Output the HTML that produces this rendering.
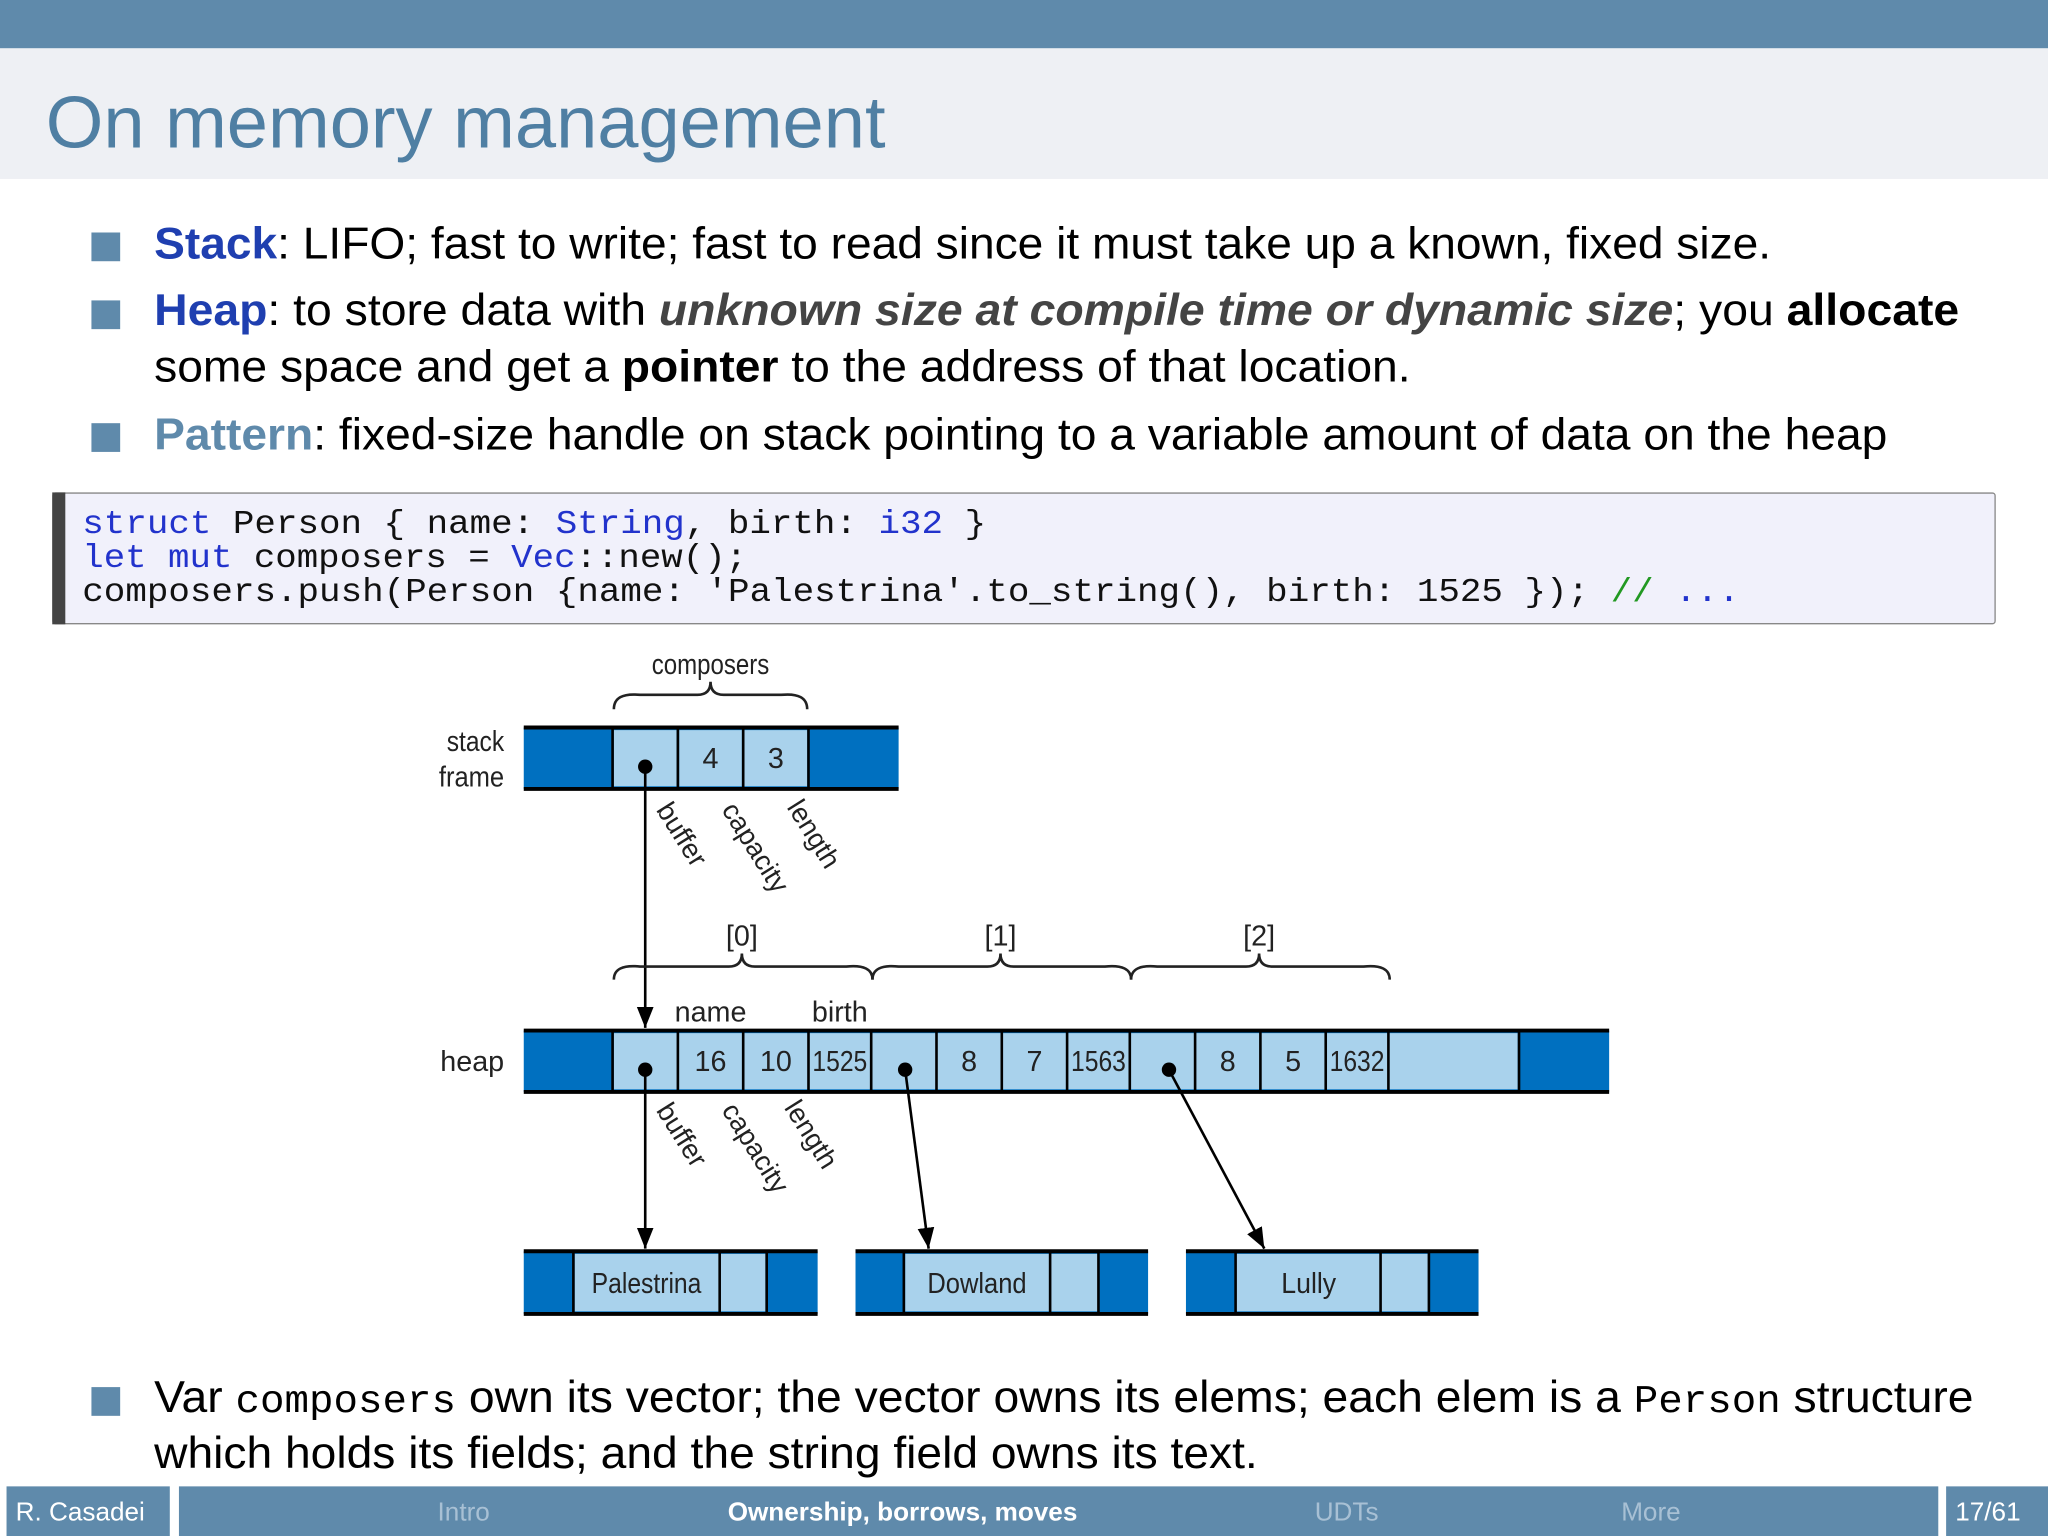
<!DOCTYPE html>
<html><head><meta charset="utf-8"><style>
html,body{margin:0;padding:0;background:#fff;}
svg{display:block;}
.cd{font-family:"Liberation Sans",sans-serif;}
</style></head><body>
<svg width="2048" height="1536" viewBox="0 0 1568 1176" xmlns="http://www.w3.org/2000/svg" font-family="Liberation Sans, sans-serif">
<defs>
<marker id="ah" viewBox="0 0 10 10" refX="10" refY="5" markerWidth="16" markerHeight="16" orient="auto" markerUnits="userSpaceOnUse"><path d="M0,1 L10,5 L0,9 z" fill="#000"/></marker>
</defs>
<rect x="0" y="0" width="1568" height="37" fill="#5f8aab"/>
<rect x="0" y="37" width="1568" height="100" fill="#eef0f4"/>
<text x="35" y="113" font-size="56" fill="#4f7fa3" textLength="643" lengthAdjust="spacingAndGlyphs">On memory management</text>

<g font-size="34" fill="#000">
<rect x="70" y="178" width="22" height="22" fill="#5f8aab"/>
<text x="118" y="198" textLength="1238" lengthAdjust="spacingAndGlyphs"><tspan font-weight="bold" fill="#1f3fb0">Stack</tspan>: LIFO; fast to write; fast to read since it must take up a known, fixed size.</text>
<rect x="70" y="230" width="22" height="22" fill="#5f8aab"/>
<text x="118" y="249" textLength="1382" lengthAdjust="spacingAndGlyphs"><tspan font-weight="bold" fill="#1f3fb0">Heap</tspan>: to store data with <tspan font-weight="bold" font-style="italic" fill="#444">unknown size at compile time or dynamic size</tspan>; you <tspan font-weight="bold">allocate</tspan></text>
<text x="118" y="292" textLength="962" lengthAdjust="spacingAndGlyphs">some space and get a <tspan font-weight="bold">pointer</tspan> to the address of that location.</text>
<rect x="70" y="324" width="22" height="22" fill="#5f8aab"/>
<text x="118" y="344" textLength="1327" lengthAdjust="spacingAndGlyphs"><tspan font-weight="bold" fill="#5f8aab">Pattern</tspan>: fixed-size handle on stack pointing to a variable amount of data on the heap</text>
</g>

<rect x="40.5" y="377.5" width="1487" height="100" fill="#f1f1fb" stroke="#888" stroke-width="1" rx="2"/>
<rect x="40" y="377" width="10" height="101" fill="#444"/>
<g font-family="Liberation Mono, monospace" font-size="25.8" fill="#111">
<text x="63" y="408" textLength="692" lengthAdjust="spacingAndGlyphs"><tspan fill="#2233cc">struct</tspan> Person { name: <tspan fill="#2233cc">String</tspan>, birth: <tspan fill="#2233cc">i32</tspan> }</text>
<text x="63" y="434" textLength="509" lengthAdjust="spacingAndGlyphs"><tspan fill="#2233cc">let mut</tspan> composers = <tspan fill="#2233cc">Vec</tspan>::new();</text>
<text x="63" y="460" textLength="1269" lengthAdjust="spacingAndGlyphs">composers.push(Person {name: 'Palestrina'.to_string(), birth: 1525 }); <tspan fill="#229922">//</tspan> <tspan fill="#2233cc">...</tspan></text>
</g>

<g class="cd" font-size="22" fill="#222">
<rect x="401" y="557" width="287" height="47" fill="#0070c0"/>
<g fill="#a9d2ec"><rect x="470" y="559" width="48" height="43"/><rect x="520" y="559" width="48" height="43"/><rect x="570" y="559" width="48" height="43"/></g>
<line x1="401" y1="557" x2="688" y2="557" stroke="#000" stroke-width="3"/>
<line x1="401" y1="604" x2="688" y2="604" stroke="#000" stroke-width="3"/>
<g stroke="#000" stroke-width="2"><line x1="469" y1="557" x2="469" y2="604"/><line x1="519" y1="557" x2="519" y2="604"/><line x1="569" y1="557" x2="569" y2="604"/><line x1="619" y1="557" x2="619" y2="604"/></g>
<text x="544" y="588" text-anchor="middle">4</text><text x="594" y="588" text-anchor="middle">3</text>
<text x="386" y="575" text-anchor="end" textLength="44" lengthAdjust="spacingAndGlyphs">stack</text>
<text x="386" y="602" text-anchor="end" textLength="50" lengthAdjust="spacingAndGlyphs">frame</text>
<path d="M470,543 Q470,530 490,532 L534,532 Q544,532 544,522 Q544,532 554,532 L598,532 Q618,530 618,543" fill="none" stroke="#222" stroke-width="2"/>
<text x="544" y="516" text-anchor="middle" textLength="90" lengthAdjust="spacingAndGlyphs">composers</text>
<g font-size="21">
<text transform="translate(502,620) rotate(58)">buffer</text>
<text transform="translate(552,620) rotate(58)">capacity</text>
<text transform="translate(602,618) rotate(58)">length</text>
</g>
<circle cx="494" cy="587" r="5.5" fill="#000"/>
<line x1="494" y1="587" x2="494" y2="787" stroke="#000" stroke-width="2" marker-end="url(#ah)"/>

<g fill="none" stroke="#222" stroke-width="2">
<path d="M470,750 Q470,738 490,740 L558,740 Q568,740 568,730 Q568,740 578,740 L648,740 Q668,738 668,750"/>
<path d="M668,750 Q668,738 688,740 L756,740 Q766,740 766,730 Q766,740 776,740 L846,740 Q866,738 866,750"/>
<path d="M866,750 Q866,738 886,740 L954,740 Q964,740 964,730 Q964,740 974,740 L1044,740 Q1064,738 1064,750"/>
</g>
<text x="568" y="724" text-anchor="middle">[0]</text>
<text x="766" y="724" text-anchor="middle">[1]</text>
<text x="964" y="724" text-anchor="middle">[2]</text>
<text x="544" y="782" text-anchor="middle">name</text>
<text x="643" y="782" text-anchor="middle">birth</text>

<rect x="401" y="789" width="831" height="47" fill="#0070c0"/>
<rect x="470" y="791" width="692" height="43" fill="#a9d2ec"/>
<line x1="401" y1="789" x2="1232" y2="789" stroke="#000" stroke-width="3"/>
<line x1="401" y1="836" x2="1232" y2="836" stroke="#000" stroke-width="3"/>
<g stroke="#000" stroke-width="2">
<line x1="469" y1="789" x2="469" y2="836"/><line x1="519" y1="789" x2="519" y2="836"/><line x1="569" y1="789" x2="569" y2="836"/><line x1="619" y1="789" x2="619" y2="836"/><line x1="667" y1="789" x2="667" y2="836"/><line x1="717" y1="789" x2="717" y2="836"/><line x1="767" y1="789" x2="767" y2="836"/><line x1="817" y1="789" x2="817" y2="836"/><line x1="865" y1="789" x2="865" y2="836"/><line x1="915" y1="789" x2="915" y2="836"/><line x1="965" y1="789" x2="965" y2="836"/><line x1="1015" y1="789" x2="1015" y2="836"/><line x1="1063" y1="789" x2="1063" y2="836"/><line x1="1163" y1="789" x2="1163" y2="836"/>
</g>
<g text-anchor="middle">
<text x="544" y="820">16</text><text x="594" y="820">10</text><text x="643" y="820" textLength="42" lengthAdjust="spacingAndGlyphs">1525</text>
<text x="742" y="820">8</text><text x="792" y="820">7</text><text x="841" y="820" textLength="42" lengthAdjust="spacingAndGlyphs">1563</text>
<text x="940" y="820">8</text><text x="990" y="820">5</text><text x="1039" y="820" textLength="42" lengthAdjust="spacingAndGlyphs">1632</text>
</g>
<text x="386" y="820" text-anchor="end">heap</text>
<g font-size="21">
<text transform="translate(502,850) rotate(58)">buffer</text>
<text transform="translate(552,850) rotate(58)">capacity</text>
<text transform="translate(600,848) rotate(58)">length</text>
</g>
<circle cx="494" cy="819" r="5.5" fill="#000"/>
<circle cx="693" cy="819" r="5.5" fill="#000"/>
<circle cx="895" cy="819" r="5.5" fill="#000"/>
<g stroke="#000" stroke-width="2">
<line x1="494" y1="819" x2="494" y2="956" marker-end="url(#ah)"/>
<line x1="693" y1="819" x2="711" y2="956" marker-end="url(#ah)"/>
<line x1="895" y1="819" x2="968" y2="956" marker-end="url(#ah)"/>
</g>

<g>
<rect x="401" y="958" width="225" height="48" fill="#0070c0"/>
<rect x="440" y="960" width="146" height="44" fill="#a9d2ec"/>
<rect x="655" y="958" width="224" height="48" fill="#0070c0"/>
<rect x="693" y="960" width="148" height="44" fill="#a9d2ec"/>
<rect x="908" y="958" width="224" height="48" fill="#0070c0"/>
<rect x="946" y="960" width="148" height="44" fill="#a9d2ec"/>
<g stroke="#000" stroke-width="3">
<line x1="401" y1="958" x2="626" y2="958"/><line x1="401" y1="1006" x2="626" y2="1006"/>
<line x1="655" y1="958" x2="879" y2="958"/><line x1="655" y1="1006" x2="879" y2="1006"/>
<line x1="908" y1="958" x2="1132" y2="958"/><line x1="908" y1="1006" x2="1132" y2="1006"/>
</g>
<g stroke="#000" stroke-width="2">
<line x1="439" y1="958" x2="439" y2="1006"/><line x1="551" y1="958" x2="551" y2="1006"/><line x1="587" y1="958" x2="587" y2="1006"/>
<line x1="692" y1="958" x2="692" y2="1006"/><line x1="804" y1="958" x2="804" y2="1006"/><line x1="841" y1="958" x2="841" y2="1006"/>
<line x1="946" y1="958" x2="946" y2="1006"/><line x1="1057" y1="958" x2="1057" y2="1006"/><line x1="1094" y1="958" x2="1094" y2="1006"/>
</g>
<text x="495" y="990" text-anchor="middle" textLength="84" lengthAdjust="spacingAndGlyphs">Palestrina</text>
<text x="748" y="990" text-anchor="middle" textLength="76" lengthAdjust="spacingAndGlyphs">Dowland</text>
<text x="1002" y="990" text-anchor="middle" textLength="42" lengthAdjust="spacingAndGlyphs">Lully</text>
</g>
</g>

<g font-size="34" fill="#000">
<rect x="70" y="1062" width="22" height="22" fill="#5f8aab"/>
<text x="118" y="1081" textLength="1393" lengthAdjust="spacingAndGlyphs">Var <tspan font-family="Liberation Mono, monospace" font-size="30">composers</tspan> own its vector; the vector owns its elems; each elem is a <tspan font-family="Liberation Mono, monospace" font-size="30">Person</tspan> structure</text>
<text x="118" y="1124" textLength="845" lengthAdjust="spacingAndGlyphs">which holds its fields; and the string field owns its text.</text>
</g>

<rect x="0" y="1138" width="1568" height="38" fill="#fff"/>
<rect x="5" y="1138" width="125" height="38" fill="#5f8aab"/>
<rect x="137" y="1138" width="1347" height="38" fill="#5f8aab"/>
<rect x="1490" y="1138" width="78" height="38" fill="#5f8aab"/>
<g font-size="20">
<text x="12" y="1164" fill="#fff">R. Casadei</text>
<text x="355" y="1164" fill="#a8c0d4" text-anchor="middle">Intro</text>
<text x="691" y="1164" fill="#fff" font-weight="bold" text-anchor="middle">Ownership, borrows, moves</text>
<text x="1031" y="1164" fill="#a8c0d4" text-anchor="middle">UDTs</text>
<text x="1264" y="1164" fill="#a8c0d4" text-anchor="middle">More</text>
<text x="1497" y="1164" fill="#fff">17/61</text>
</g>
</svg>
</body></html>
